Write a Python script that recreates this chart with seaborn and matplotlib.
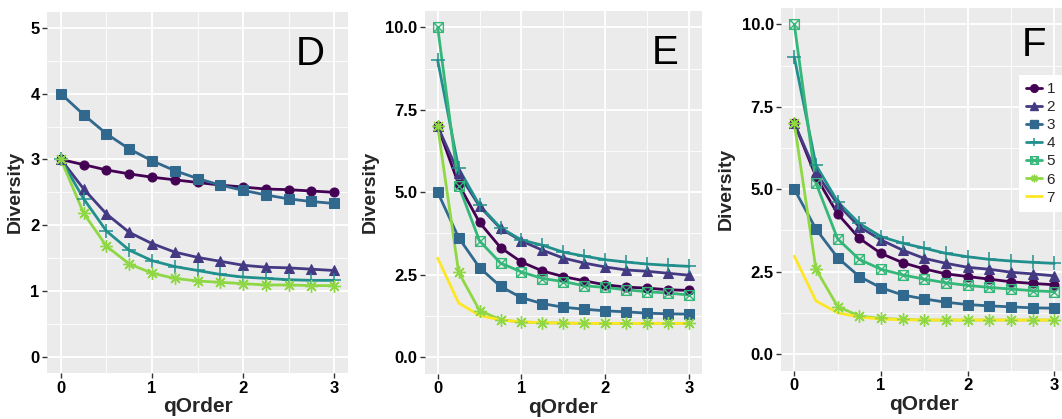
import numpy as np
import matplotlib
matplotlib.use("Agg")
import matplotlib.pyplot as plt
from matplotlib.lines import Line2D
from matplotlib.path import Path
from matplotlib.ticker import MultipleLocator, FormatStrFormatter
import seaborn as sns

# ─── Data ─────────────────────────────────────────────────────────────────────
q_order = [0, 0.25, 0.5, 0.75, 1.0, 1.25, 1.5, 1.75, 2.0, 2.25, 2.5, 2.75, 3.0]
series_names = ["1", "2", "3", "4", "5", "6", "7"]

# panel D
d_s1 = [3.0, 2.92, 2.84, 2.78, 2.73, 2.69, 2.65, 2.61, 2.58, 2.55, 2.54, 2.52, 2.50]
d_s2 = [3.0, 2.55, 2.17, 1.89, 1.72, 1.59, 1.51, 1.45, 1.39, 1.36, 1.35, 1.33, 1.31]
d_s3 = [4.0, 3.68, 3.39, 3.16, 2.98, 2.83, 2.71, 2.61, 2.53, 2.46, 2.40, 2.36, 2.33]
d_s4 = [3.0, 2.40, 1.91, 1.62, 1.46, 1.37, 1.31, 1.25, 1.21, 1.19, 1.17, 1.16, 1.16]
d_s6 = [3.0, 2.18, 1.68, 1.41, 1.27, 1.19, 1.15, 1.13, 1.11, 1.09, 1.09, 1.08, 1.08]

# panel E
e_s1 = [7.0, 5.24, 4.08, 3.32, 2.88, 2.61, 2.44, 2.31, 2.19, 2.12, 2.09, 2.04, 2.02]
e_s2 = [7.0, 5.57, 4.57, 3.90, 3.52, 3.24, 3.00, 2.85, 2.73, 2.64, 2.60, 2.54, 2.48]
e_s3 = [5.0, 3.62, 2.71, 2.14, 1.80, 1.62, 1.51, 1.45, 1.40, 1.37, 1.33, 1.31, 1.30]
e_s4 = [9.0, 5.72, 4.60, 3.92, 3.55, 3.39, 3.18, 3.06, 2.95, 2.88, 2.82, 2.78, 2.75]
e_s5 = [10.0, 5.20, 3.52, 2.85, 2.58, 2.38, 2.29, 2.16, 2.11, 2.04, 1.98, 1.94, 1.88]
e_s6 = [7.0, 2.57, 1.41, 1.13, 1.06, 1.04, 1.03, 1.02, 1.02, 1.02, 1.02, 1.02, 1.02]
e_s7 = [3.0, 1.64, 1.26, 1.12, 1.07, 1.04, 1.03, 1.02, 1.02, 1.02, 1.02, 1.02, 1.02]

# panel F
f_s1 = [7.0, 5.38, 4.25, 3.51, 3.05, 2.77, 2.58, 2.43, 2.35, 2.27, 2.19, 2.14, 2.10]
f_s2 = [7.0, 5.50, 4.54, 3.86, 3.46, 3.15, 2.90, 2.75, 2.63, 2.57, 2.48, 2.43, 2.37]
f_s3 = [5.0, 3.79, 2.92, 2.35, 2.01, 1.79, 1.67, 1.57, 1.50, 1.46, 1.43, 1.40, 1.39]
f_s4 = [9.0, 5.73, 4.62, 3.96, 3.56, 3.36, 3.21, 3.05, 2.95, 2.87, 2.82, 2.78, 2.75]
f_s5 = [10.0, 5.18, 3.49, 2.87, 2.57, 2.40, 2.27, 2.16, 2.08, 2.02, 1.97, 1.92, 1.89]
f_s6 = [7.0, 2.57, 1.44, 1.15, 1.08, 1.05, 1.03, 1.03, 1.03, 1.03, 1.03, 1.03, 1.03]
f_s7 = [2.97, 1.61, 1.25, 1.12, 1.06, 1.04, 1.03, 1.03, 1.03, 1.03, 1.03, 1.03, 1.03]

panels = [
    ("D", {"1": d_s1, "2": d_s2, "3": d_s3, "4": d_s4, "6": d_s6}),
    ("E", {"1": e_s1, "2": e_s2, "3": e_s3, "4": e_s4, "5": e_s5, "6": e_s6, "7": e_s7}),
    ("F", {"1": f_s1, "2": f_s2, "3": f_s3, "4": f_s4, "5": f_s5, "6": f_s6, "7": f_s7}),
]

# ─── Styles ───────────────────────────────────────────────────────────────────
COLORS = {"1": "#440154", "2": "#443A83", "3": "#31688E", "4": "#21908C",
          "5": "#35B779", "6": "#8FD744", "7": "#FDE725"}

# open square with a cross in it (ggplot shape 7)
sq_cross = Path([(-1, -1), (1, -1), (1, 1), (-1, 1), (-1, -1),
                 (-1, -1), (1, 1), (-1, 1), (1, -1)],
                [Path.MOVETO, Path.LINETO, Path.LINETO, Path.LINETO, Path.LINETO,
                 Path.MOVETO, Path.LINETO, Path.MOVETO, Path.LINETO])

MARKERS = {
    "1": dict(marker="o", ms=6.5),
    "2": dict(marker="^", ms=7),
    "3": dict(marker="s", ms=6.5),
    "4": dict(marker="+", ms=10, mew=1.1),
    "5": dict(marker=sq_cross, ms=7, mfc="none", mew=1.0),
    "6": dict(marker=(8, 2, 0), ms=9, mew=1.0),
    "7": dict(marker="None"),
}

sns.set_theme(style="darkgrid", rc={
    "axes.facecolor": "#EBEBEB",
    "grid.color": "white",
    "axes.edgecolor": "none",
    "xtick.bottom": True, "ytick.left": True,
    "xtick.color": "#333333", "ytick.color": "#333333",
    "xtick.major.size": 3.5, "ytick.major.size": 3.5,
    "xtick.major.width": 1.0, "ytick.major.width": 1.0,
})
plt.rcParams["font.family"] = ["Liberation Sans", "DejaVu Sans"]

W, H = 1062, 419
fig = plt.figure(figsize=(W / 100, H / 100), dpi=100)

# axes rectangles in pixels: left, top, right, bottom
rects = [(47.3, 11.6, 347.7, 373.0),
         (425.1, 10.8, 701.6, 373.5),
         (781.3, 7.8, 1067.4, 370.5)]
ylims = [(-0.25, 5.25), (-0.5, 10.5), (-0.5, 10.5)]
letter_pos = [(0.925, 0.935), (0.915, 0.935), (0.925, 0.95)]

for (letter, data), (l, t, r, b), ylim, lpos in zip(panels, rects, ylims, letter_pos):
    ax = fig.add_axes([l / W, 1 - b / H, (r - l) / W, (b - t) / H])

    # lines first, then the points on top (ggplot order)
    for name, vals in data.items():
        sns.lineplot(x=q_order, y=vals, ax=ax, color=COLORS[name], lw=2.0,
                     legend=False)
    for name, vals in data.items():
        if name == "7":
            continue
        sns.lineplot(x=q_order, y=vals, ax=ax, color=COLORS[name],
                     linestyle="none", legend=False,
                     mec=COLORS[name], **MARKERS[name])

    ax.set_xlim(-0.15, 3.15)
    ax.set_ylim(*ylim)
    ax.xaxis.set_major_locator(MultipleLocator(1))
    ax.xaxis.set_minor_locator(MultipleLocator(0.5))
    if letter == "D":
        ax.yaxis.set_major_locator(MultipleLocator(1))
        ax.yaxis.set_minor_locator(MultipleLocator(0.5))
    else:
        ax.yaxis.set_major_locator(MultipleLocator(2.5))
        ax.yaxis.set_minor_locator(MultipleLocator(1.25))
        ax.yaxis.set_major_formatter(FormatStrFormatter("%.1f"))
    ax.grid(which="major", color="white", lw=1.3)
    ax.grid(which="minor", color="white", lw=0.6)
    ax.tick_params(which="minor", length=0)
    ax.tick_params(which="major", labelsize=12, pad=2)
    for lab in ax.get_xticklabels() + ax.get_yticklabels():
        lab.set_fontweight("bold")
        lab.set_color("black")

    ax.set_xlabel("qOrder", fontsize=15, fontweight="bold", labelpad=1)
    ax.set_ylabel("Diversity", fontsize=14, fontweight="bold", labelpad=5)
    ax.text(lpos[0], lpos[1], letter, transform=ax.transAxes, fontsize=29,
            ha="right", va="top", color="black")

# legend (sits over the right edge of panel F)
handles = []
for name in series_names:
    kw = {k: v for k, v in MARKERS[name].items() if k != "ms"}
    handles.append(Line2D([], [], color=COLORS[name], lw=2.0, ms=5.5,
                          mec=COLORS[name], **kw))
leg = fig.legend(handles, series_names, loc="upper left",
                 bbox_to_anchor=(1019 / W, 1 - 75 / H), fontsize=11,
                 frameon=True, facecolor="white", edgecolor="none",
                 framealpha=1.0, handlelength=1.05, handletextpad=0.3,
                 labelspacing=0.27, borderpad=0.45, borderaxespad=0,
                 fancybox=False)

fig.savefig("out.png", dpi=100, facecolor="white")
